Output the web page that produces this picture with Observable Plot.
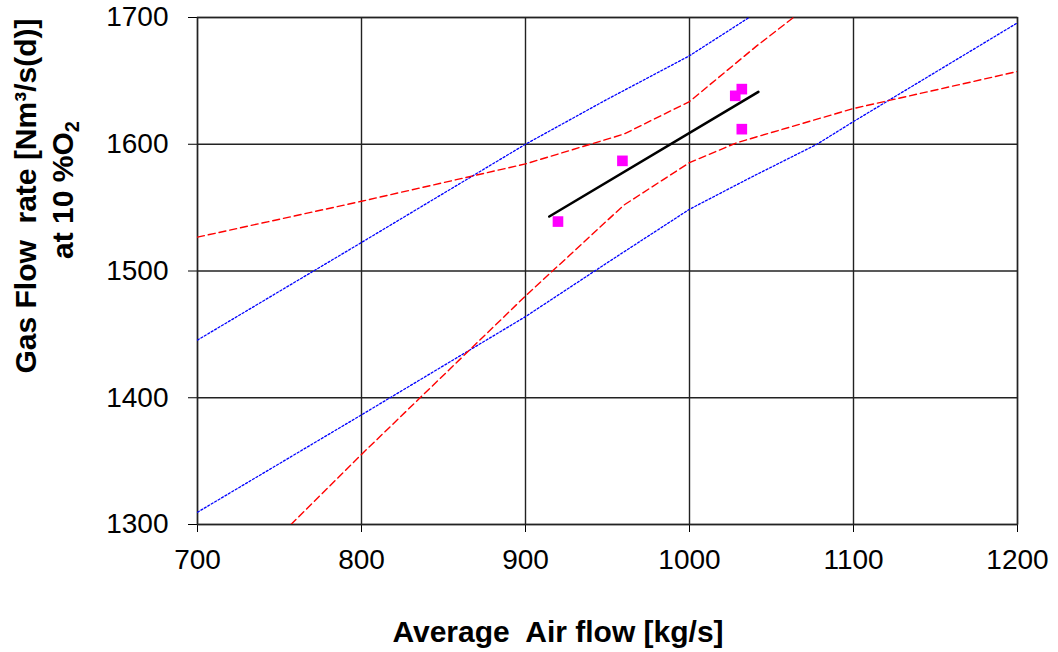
<!DOCTYPE html>
<html><head><meta charset="utf-8">
<script src="https://cdn.jsdelivr.net/npm/d3@7"></script>
<script src="https://cdn.jsdelivr.net/npm/@observablehq/plot@0.6"></script>
<style>body{margin:0;background:#fff;} #chart svg{display:block;}</style>
</head><body><div id="chart"></div>
<script>
// Axis ticks
const xTicks = [700, 800, 900, 1000, 1100, 1200];
const yTicks = [1300, 1400, 1500, 1600, 1700];

// Measured points
const airFlow = [919.8, 959.1, 1027.9, 1031.9, 1031.9];
const gasFlow = [1539.0, 1586.9, 1638.2, 1643.5, 1611.9];

// Regression line
const fitX = [914.5, 1042.0];
const fitY = [1543.0, 1641.3];

// Prediction band (blue dotted)
const predUpperX = [700, 800, 900, 948, 1000, 1036.3];
const predUpperY = [1445.5, 1522.5, 1600, 1634.2, 1669.8, 1700];
const predLowerX = [700, 800, 900, 951.6, 1000, 1037.2, 1077.7, 1100, 1200];
const predLowerY = [1309.7, 1386.5, 1464, 1508, 1548.7, 1573.7, 1600, 1617.9, 1695.8];

// Confidence band (red dashed)
const confUpperX = [700, 800, 900, 960, 1000, 1041, 1063.4];
const confUpperY = [1526.7, 1555, 1584.5, 1608, 1633.7, 1677.6, 1700];
const confLowerX = [757, 800, 900, 960, 1000, 1029, 1100, 1200];
const confLowerY = [1300, 1355.3, 1480.3, 1552, 1585.5, 1601.3, 1628.2, 1657.4];

const zip = (xs, ys) => xs.map((x, i) => ({x, y: ys[i]}));

const blueStyle = {x: "x", y: "y", stroke: "#0000ff", strokeWidth: 1.3, strokeDasharray: "2,2", clip: true};
const redStyle = {x: "x", y: "y", stroke: "#ff0000", strokeWidth: 1.4, strokeDasharray: "7,4", clip: true};

const FONT = "'Liberation Sans', Arial, sans-serif";

const chart = Plot.plot({
  width: 1058,
  height: 652,
  marginLeft: 197,
  marginRight: 41,
  marginTop: 17,
  marginBottom: 128,
  style: {fontFamily: FONT, fontSize: "28px", background: "#fff", color: "#000"},
  x: {domain: [700, 1200], ticks: xTicks, tickSize: 8, tickPadding: 17, label: null, tickFormat: d => String(d)},
  y: {domain: [1300, 1700], ticks: yTicks, tickSize: 9, tickPadding: 20, label: null, tickFormat: d => String(d)},
  marks: [
    Plot.gridX(xTicks, {stroke: "#222", strokeOpacity: 1, strokeWidth: 1.4}),
    Plot.gridY(yTicks, {stroke: "#222", strokeOpacity: 1, strokeWidth: 1.4}),
    Plot.frame({stroke: "#222", strokeWidth: 1.4}),
    Plot.line(zip(predUpperX, predUpperY), blueStyle),
    Plot.line(zip(predLowerX, predLowerY), blueStyle),
    Plot.line(zip(confUpperX, confUpperY), redStyle),
    Plot.line(zip(confLowerX, confLowerY), redStyle),
    Plot.line(zip(fitX, fitY), {x: "x", y: "y", stroke: "#000", strokeWidth: 2.6}),
    Plot.dot(zip(airFlow, gasFlow), {x: "x", y: "y", symbol: "square", r: 6, fill: "#ff00ff", stroke: "none"})
  ]
});
document.getElementById("chart").append(chart);

const svg = d3.select(chart);
svg.selectAll('g[aria-label="x-axis tick label"] text, g[aria-label="y-axis tick label"] text')
  .attr("font-size", 28).attr("font-family", FONT).attr("fill", "#000");

svg.append("text")
  .attr("transform", "translate(558,642)")
  .attr("text-anchor", "middle")
  .attr("font-weight", "bold")
  .attr("font-size", 30)
  .attr("font-family", FONT)
  .attr("fill", "#000")
  .text("Average  Air flow [kg/s]");

svg.append("text")
  .attr("transform", "translate(36,196) rotate(-90)")
  .attr("text-anchor", "middle")
  .attr("font-weight", "bold")
  .attr("font-size", 30)
  .attr("font-family", FONT)
  .attr("fill", "#000")
  .text("Gas Flow  rate [Nm³/s(d)]");

const t2 = svg.append("text")
  .attr("transform", "translate(73,190) rotate(-90)")
  .attr("text-anchor", "middle")
  .attr("font-weight", "bold")
  .attr("font-size", 30)
  .attr("font-family", FONT)
  .attr("fill", "#000");
t2.append("tspan").text("at 10 %O");
t2.append("tspan").attr("font-size", 20).attr("dy", 6).text("2");
</script></body></html>
